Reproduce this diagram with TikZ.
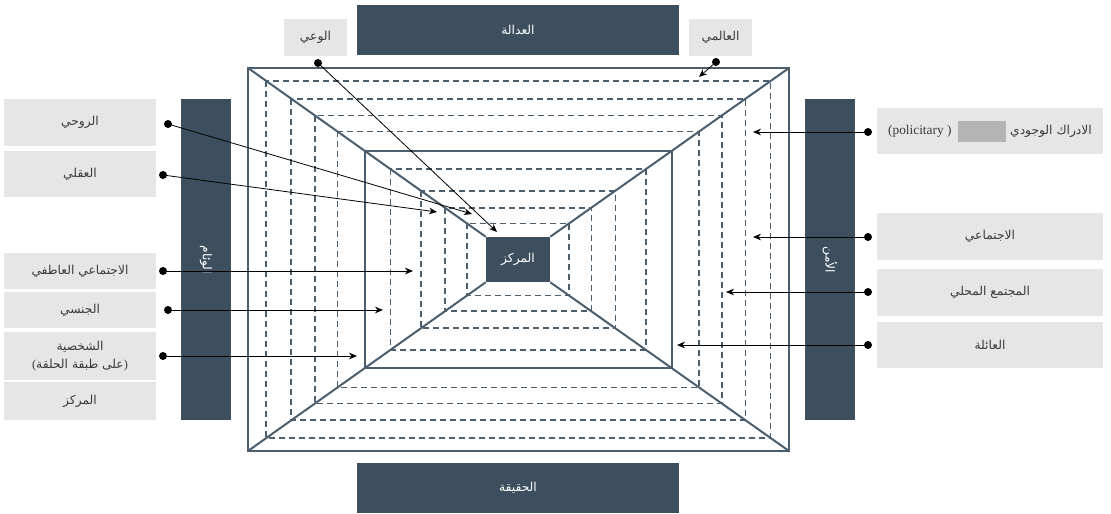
\documentclass[tikz,border=0pt]{standalone}
\usepackage{fontspec}
\setmainfont{Liberation Serif}
\newfontfamily\arabicfont[Script=Arabic]{DejaVu Sans}
\TeXXeTstate=1
\usetikzlibrary{calc,arrows.meta}
\definecolor{slate}{HTML}{3D4F5F}
\definecolor{linecol}{HTML}{4B5E6E}
\definecolor{boxgray}{HTML}{E6E6E6}
\definecolor{labeltext}{HTML}{3A3A3A}
\definecolor{redact}{HTML}{B4B4B4}
\newcommand{\artxt}[1]{{\arabicfont\beginR #1\endR}}
\begin{document}
\begin{tikzpicture}[x=0.75pt,y=-0.75pt,
  font=\fontsize{9.2}{12}\selectfont,
  graybox/.style={fill=boxgray, draw=none, text=labeltext, inner sep=0pt, align=center},
  lbox/.style={graybox, minimum width=114pt},
  rbox/.style={graybox, minimum width=169.5pt},
  tbox/.style={graybox, minimum width=47.25pt, minimum height=27.75pt},
  hbar/.style={fill=slate, text=white, inner sep=0pt, minimum width=241.5pt, minimum height=37.5pt},
  vbar/.style={fill=slate, inner sep=0pt, minimum width=37.5pt, minimum height=240.75pt},
  vlabel/.style={text=white, rotate=-90, inner sep=0pt},
  corebox/.style={fill=slate, text=white, inner sep=0pt, minimum width=48pt, minimum height=33.75pt},
  frameline/.style={draw=linecol, line width=1.5pt},
  dashframe/.style={draw=linecol, line width=1.25pt, dash pattern=on 4.5pt off 3pt},
  pointer/.style={draw=black, line width=0.6pt, -{Stealth[length=6pt,width=5pt]}},
  dotnode/.style={circle, fill=black, inner sep=0pt, minimum size=6pt}
]
\useasboundingbox (0,0) rectangle (1111,514);

% outer frame corners and core
\coordinate (oNW) at (248,68);
\coordinate (oSE) at (789,451);
\coordinate (oNE) at (789,68);
\coordinate (oSW) at (248,451);
\node[corebox] (core) at (518,259.5) {\artxt{المركز}};

% dashed rings
\foreach \t in {0.077,0.182,0.282,0.376,0.60,0.727,0.828,0.921}
  \draw[dashframe] ($(oNW)!\t!(core.north west)$) rectangle ($(oSE)!\t!(core.south east)$);

% frames and diagonals
\draw[frameline] (oNW) rectangle (oSE);
\draw[frameline] ($(oNW)!0.491!(core.north west)$) rectangle ($(oSE)!0.491!(core.south east)$);
\draw[frameline] (oNW) -- (core.north west);
\draw[frameline] (oNE) -- (core.north east);
\draw[frameline] (oSE) -- (core.south east);
\draw[frameline] (oSW) -- (core.south west);

% bars
\node[hbar] (justice) at (518,30) {\artxt{العدالة}};
\node[hbar] (truth) at (518,488) {\artxt{الحقيقة}};
\node[vbar] (harmbar) at (206,259.5) {};
\node[vlabel] (harm) at (206,260) {\artxt{الوئام}};
\node[vbar] (secbar) at (830,259.5) {};
\node[vlabel] (sec) at (830,260) {\artxt{الأمن}};

% top small boxes
\node[tbox] (aware) at (315.5,37.5) {\artxt{الوعي}};
\node[tbox] (global) at (720.5,37.5) {\artxt{العالمي}};

% left boxes
\node[lbox, minimum height=35.25pt] (spirit) at (80,122.5) {\artxt{الروحي}};
\node[lbox, minimum height=34.5pt] (mind) at (80,174) {\artxt{العقلي}};
\node[lbox, minimum height=27pt] (socemo) at (80,271) {\artxt{الاجتماعي العاطفي}};
\node[lbox, minimum height=27pt] (sexual) at (80,310) {\artxt{الجنسي}};
\node[lbox, minimum height=36pt] (person) at (80,356) {\artxt{الشخصية}\\[1pt](\artxt{على طبقة الحلقة})};
\node[lbox, minimum height=28.5pt] (center) at (80,401) {\artxt{المركز}};

% right boxes
\node[rbox, minimum height=34.5pt] (exist) at (990,131) {{\fontsize{10}{12}\selectfont(policitary\ )}\hspace{5pt}{\color{redact}\rule[-5pt]{36pt}{15.75pt}}\hspace{3pt}\artxt{الادراك الوجودي}};
\node[rbox, minimum height=35.25pt] (social) at (990,236.5) {\artxt{الاجتماعي}};
\node[rbox, minimum height=35.25pt] (commun) at (990,292.5) {\artxt{المجتمع المحلي}};
\node[rbox, minimum height=34.5pt] (family) at (990,345) {\artxt{العائلة}};

% dots
\node[dotnode] (d1) at (168,124) {};
\node[dotnode] (d2) at (163,175) {};
\node[dotnode] (d3) at (163,271) {};
\node[dotnode] (d4) at (168,310) {};
\node[dotnode] (d5) at (163,356) {};
\node[dotnode] (dw) at (318,63) {};
\node[dotnode] (dg) at (716,62) {};
\node[dotnode] (r1) at (868,132) {};
\node[dotnode] (r2) at (868,237) {};
\node[dotnode] (r3) at (868,292) {};
\node[dotnode] (r4) at (868,345) {};

% targets
\coordinate (t1) at (472,214);
\coordinate (t2) at (437,212);
\coordinate (t3) at (413,271);
\coordinate (t4) at (383,310);
\coordinate (t5) at (357,356);
\coordinate (tw) at (497,232);
\coordinate (tg) at (699,77);
\coordinate (s1) at (753,132);
\coordinate (s2) at (753,237);
\coordinate (s3) at (726,292);
\coordinate (s4) at (677,345);

\draw[pointer] (d1.center) -- (t1);
\draw[pointer] (d2.center) -- (t2);
\draw[pointer] (d3.center) -- (t3);
\draw[pointer] (d4.center) -- (t4);
\draw[pointer] (d5.center) -- (t5);
\draw[pointer] (dw.center) -- (tw);
\draw[pointer] (dg.center) -- (tg);
\draw[pointer] (r1.center) -- (s1);
\draw[pointer] (r2.center) -- (s2);
\draw[pointer] (r3.center) -- (s3);
\draw[pointer] (r4.center) -- (s4);
\end{tikzpicture}
\end{document}
